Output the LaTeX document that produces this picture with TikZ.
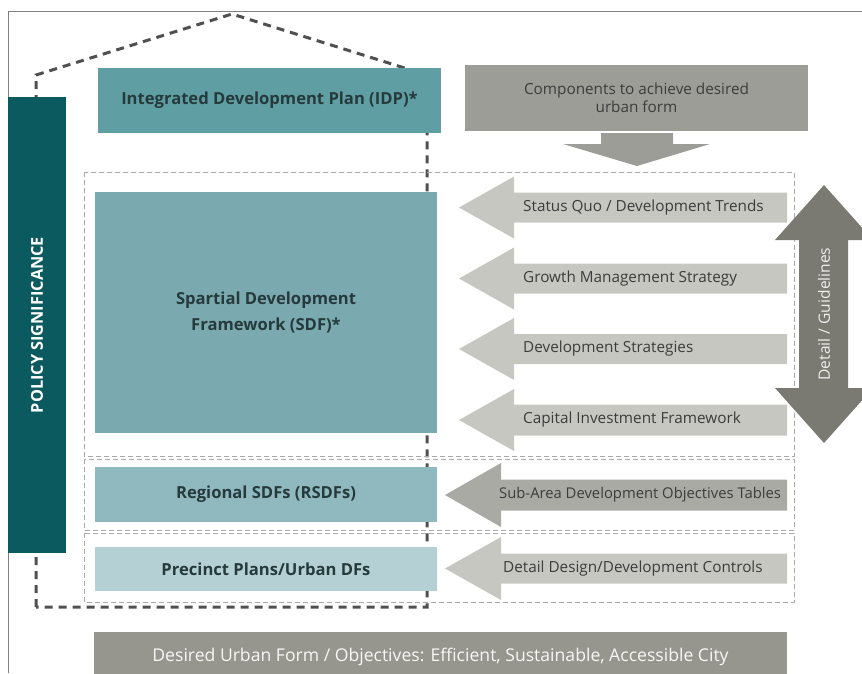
\documentclass[tikz,border=0pt]{standalone}
\usepackage{fontspec}
\setmainfont{Open Sans}
\definecolor{policyteal}{RGB}{11,90,95}
\definecolor{idpteal}{RGB}{95,158,163}
\definecolor{sdfteal}{RGB}{122,170,176}
\definecolor{rsdfteal}{RGB}{143,185,190}
\definecolor{precteal}{RGB}{180,208,212}
\definecolor{boxtext}{RGB}{38,58,60}
\definecolor{compgray}{RGB}{157,157,151}
\definecolor{lightarrow}{RGB}{199,199,193}
\definecolor{midarrow}{RGB}{170,170,165}
\definecolor{darkarrow}{RGB}{122,122,115}
\definecolor{bannergray}{RGB}{150,150,143}
\definecolor{arrowtext}{RGB}{60,60,60}
\definecolor{housegray}{RGB}{80,80,80}
\definecolor{dashgray}{RGB}{170,170,170}
\tikzset{box/.style={inner sep=0pt, align=center, text=boxtext,
  font=\bfseries\fontsize{16.6}{26}\selectfont}}
\tikzset{lbl/.style={anchor=west, inner sep=0pt, text=arrowtext,
  font=\fontsize{15.3}{18}\selectfont}}
\tikzset{house/.style={draw=housegray, line width=3pt, dash pattern=on 8pt off 6pt}}
\tikzset{zone/.style={draw=dashgray, line width=0.8pt, dash pattern=on 5pt off 3pt}}
% left pointing block arrow: fill, tip x, centre y, head base x, head half, body half
\newcommand{\leftblock}[6]{%
  \fill[#1] (#2,#3) -- (#4,#3-#5) -- (#4,#3-#6) -- (787,#3-#6)
    -- (787,#3+#6) -- (#4,#3+#6) -- (#4,#3+#5) -- cycle;}

\begin{document}
\begin{tikzpicture}[x=1pt,y=-1pt]
                \useasboundingbox (0,0) rectangle (862,673);
                \draw[gray, line width=1pt] (862,11) -- (8,11) -- (8,673);
                % roof and walls
                \draw[house] (36,607) -- (36,75) -- (232,14) -- (427,75) -- (427,607) -- cycle;
                \draw[zone] (84,172) rectangle (794,456);
                \draw[zone] (84,459) rectangle (794,530);
                \draw[zone] (84,533) rectangle (794,602);
                % left bar
                \node[fill=policyteal, minimum width=58pt, minimum height=456pt, inner sep=0pt] (bar) at (37,325) {};
                \node[rotate=90, text=white, font=\bfseries\fontsize{16.3}{18}\selectfont] (policy) at (bar.center) {POLICY SIGNIFICANCE};
                % planning instruments
                \node[box, fill=idpteal, minimum width=343pt, minimum height=65pt] (idp) at (269.5,100.5) {Integrated Development Plan (IDP)*};
                \node[box, fill=sdfteal, minimum width=342pt, minimum height=241pt] (sdf) at (266,312.5) {Spartial Development\\Framework (SDF)*};
                \node[box, fill=rsdfteal, minimum width=342pt, minimum height=55pt] (rsdf) at (266,494.5) {Regional SDFs (RSDFs)};
                \node[box, fill=precteal, minimum width=342pt, minimum height=44pt] (prec) at (266,569) {Precinct Plans/Urban DFs};
                % components
                \node[fill=compgray, minimum width=343pt, minimum height=66pt, inner sep=0pt, align=center, text=arrowtext,
                      font=\fontsize{15.3}{18}\selectfont] (comp) at (636.5,98) {Components to achieve desired\\urban form};
                \fill[compgray] (601,133) -- (673,133) -- (673,144) -- (710,144) -- (637,166) -- (563,144) -- (601,144) -- cycle;
                % component arrows
                \leftblock{lightarrow}{459}{207.5}{514}{31}{15}
                \leftblock{lightarrow}{459}{278.5}{514}{31}{15}
                \leftblock{lightarrow}{459}{349}{514}{31}{15}
                \leftblock{lightarrow}{459}{420}{514}{31}{15.5}
                \leftblock{midarrow}{445}{495}{501}{32}{15.5}
                \leftblock{lightarrow}{445}{568.5}{501}{31.5}{15}
                \node[lbl] (quo) at (523,207.5) {Status Quo / Development Trends};
                \node[lbl] (growth) at (523,278.5) {Growth Management Strategy};
                \node[lbl] (devstrat) at (523,349) {Development Strategies};
                \node[lbl] (capital) at (523,420) {Capital Investment Framework};
                \node[lbl, font=\fontsize{14.8}{18}\selectfont] (subarea) at (499,495) {Sub-Area Development Objectives Tables};
                \node[lbl] (design) at (503,568.5) {Detail Design/Development Controls};
                % detail arrow
                \fill[darkarrow] (824,185) -- (873,240) -- (848,240) -- (848,388) -- (873,388) -- (824,443)
                  -- (775,388) -- (799,388) -- (799,240) -- (775,240) -- cycle;
                \node[rotate=90, text=white!88!darkarrow, font=\fontsize{15.6}{18}\selectfont] (detail) at (824,314) {Detail / Guidelines};
                % objectives
                \node[fill=bannergray, minimum width=693pt, minimum height=50pt, inner sep=0pt, text=white!92!bannergray,
                      font=\fontsize{17.6}{20}\selectfont] (banner) at (440.5,657) {Desired Urban Form / Objectives: Efficient, Sustainable, Accessible City};
            \end{tikzpicture}
\end{document}
